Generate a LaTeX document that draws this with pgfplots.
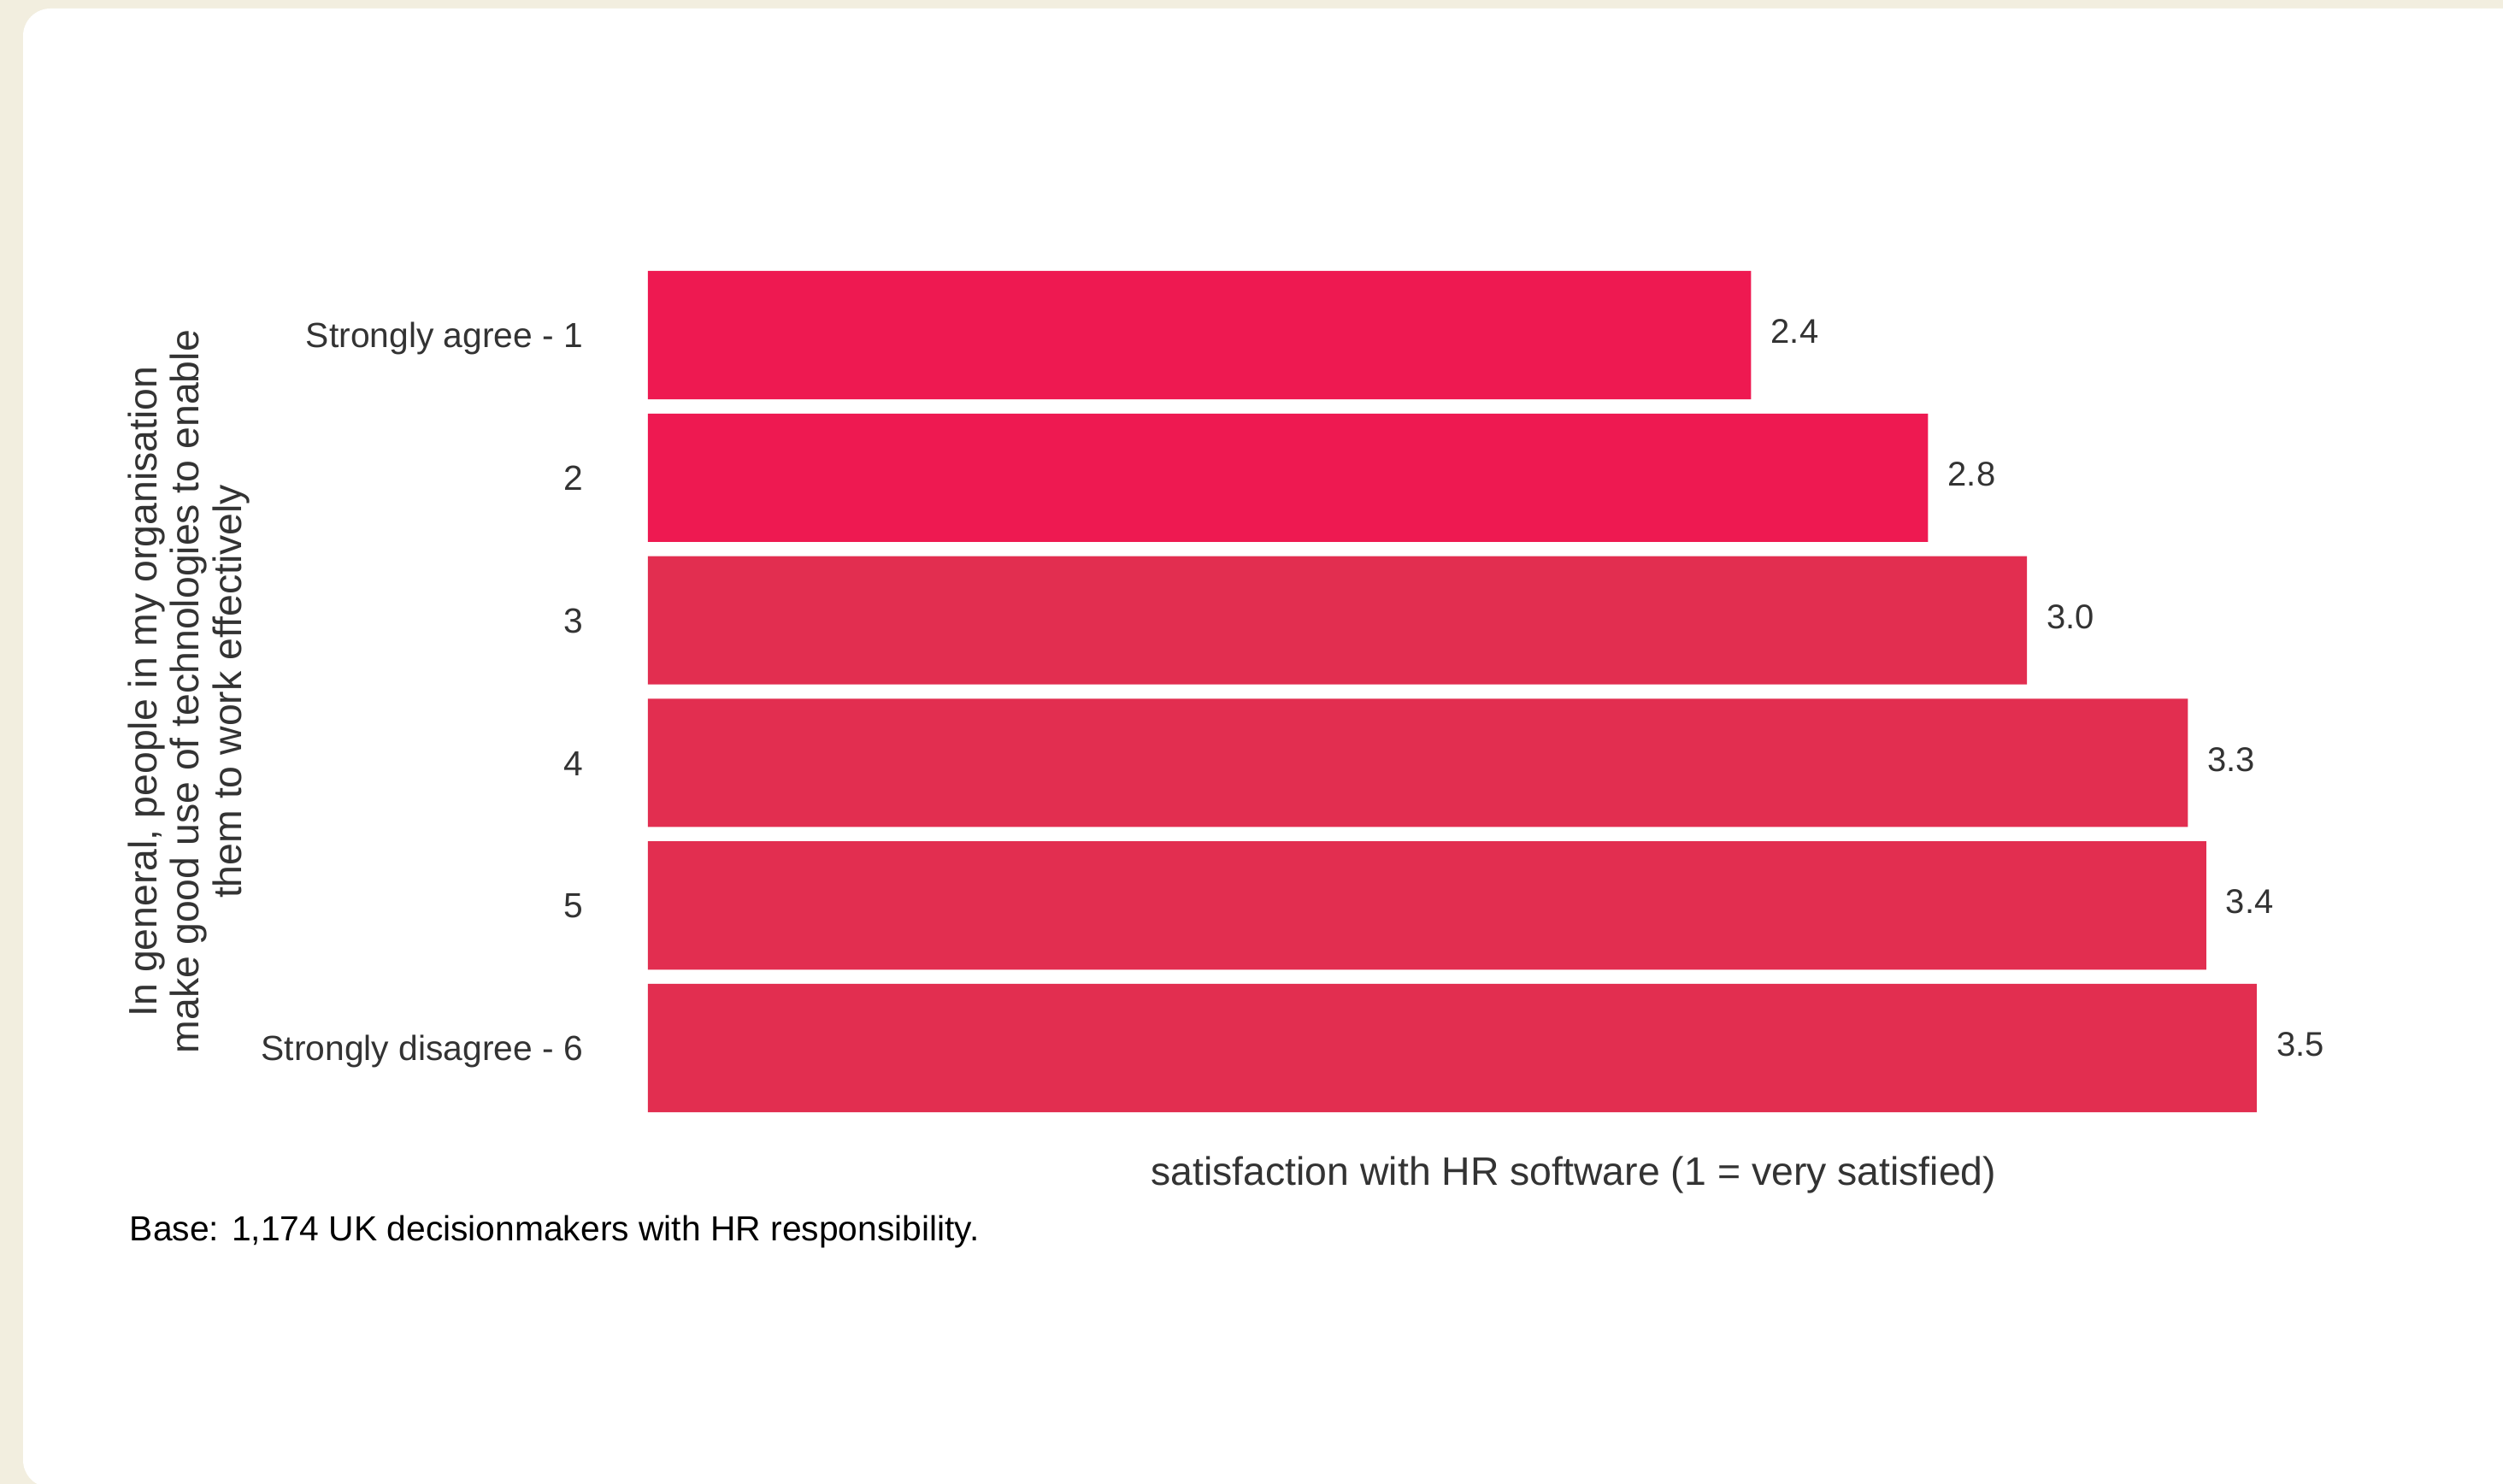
\documentclass[border=0pt]{standalone}
\usepackage{fontspec}
\setmainfont{Liberation Sans}
\usepackage{pgfplots}
\pgfplotsset{compat=1.18}
\definecolor{cream}{RGB}{242,238,223}
\definecolor{barA}{RGB}{238,25,81}
\definecolor{barB}{RGB}{226,46,80}
\definecolor{txt}{RGB}{51,51,51}
\begin{document}
\begin{tikzpicture}
\useasboundingbox (0,0) rectangle (732pt,434pt);
\fill[cream] (0,0) rectangle (732pt,434pt);
\fill[white, rounded corners=8pt] (6.75pt,-1pt) rectangle (760pt,431.5pt);
\begin{axis}[
  at={(189.5pt,106.65pt)}, anchor=south west,
  scale only axis, width=537.7pt, height=250.2pt,
  xbar, bar shift=0pt, bar width=0.9,
  xmin=0, xmax=4, ymin=0.5, ymax=6.5, y dir=reverse,
  axis line style={draw=none}, tick style={draw=none},
  major tick length=0pt,
  xtick=\empty,
  ytick={1,2,3,4,5,6},
  yticklabels={Strongly agree - 1,2,3,4,5,Strongly disagree - 6},
  yticklabel style={anchor=base east, inner sep=0pt, xshift=-18.75pt, yshift=-3.65pt, text=txt, font=\fontsize{10.2}{12}\selectfont},
  clip=false,
  point meta=explicit symbolic,
  nodes near coords,
  every node near coord/.append style={anchor=west, inner sep=0pt, xshift=5.6pt, yshift=1pt, text=txt, font=\fontsize{10}{12}\selectfont},
  xlabel={satisfaction with HR software (1 = very satisfied)},
  every axis x label/.style={at={(axis description cs:0.5035,-0.0775)}, anchor=base, text=txt, font=\fontsize{11.6}{13}\selectfont},
  ylabel={In general, people in my organisation\\make good use of technologies to enable\\them to work effectively},
  every axis y label/.style={at={(axis description cs:-0.2497,0.5)}, rotate=90, anchor=center, align=center, text=txt, font=\fontsize{11.6}{12.4}\selectfont},
]
\addplot[fill=barA, draw=none] coordinates {(2.40,1) [2.4] (2.785,2) [2.8]};
\addplot[fill=barB, draw=none] coordinates {(3.00,3) [3.0] (3.35,4) [3.3] (3.39,5) [3.4] (3.50,6) [3.5]};
\end{axis}
\node[anchor=base west, inner sep=0pt, font=\fontsize{10.2}{12}\selectfont] at (37.75pt,71pt) {Base: 1,174 UK decisionmakers with HR responsibility.};
\end{tikzpicture}
\end{document}
